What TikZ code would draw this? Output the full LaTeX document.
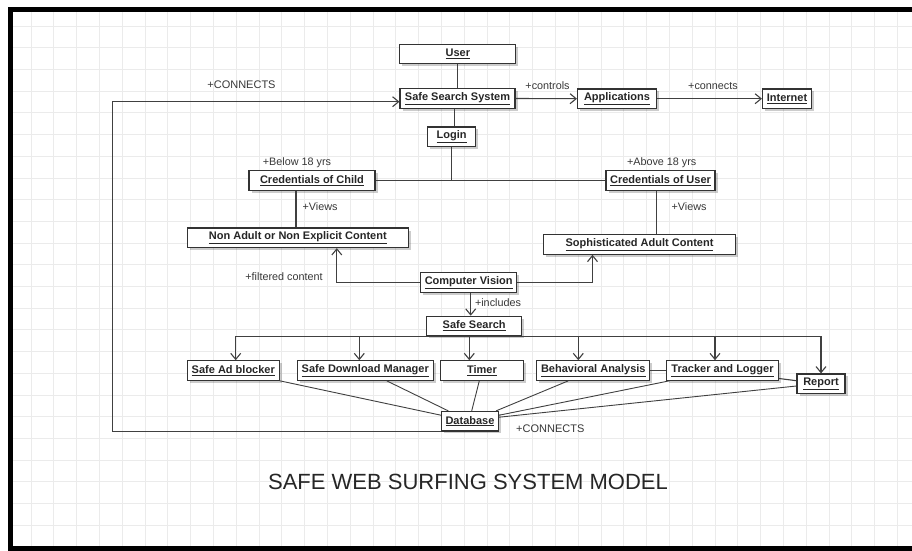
\documentclass[tikz,border=0pt]{standalone}
\usepackage{fontspec}
\setmainfont{Liberation Sans}
\usetikzlibrary{arrows.meta,shadows}
\tikzset{
  obj/.style={draw=black!80, line width=1.15pt, fill=white, minimum height=19.5pt, inner sep=2pt,
    font=\fontsize{11}{13}\selectfont\bfseries, text=black!85,
    drop shadow={shadow xshift=2.5pt, shadow yshift=-2.5pt, opacity=0.2, fill=black}},
  lbl/.style={font=\fontsize{10.8}{12}\selectfont, text=black!78, inner sep=0pt},
  link/.style={draw=black!75, line width=1.1pt},
  nav/.style={link, -{Straight Barb[length=6pt,width=10pt]}},
}
\begin{document}
\begin{tikzpicture}[x=1pt,y=-1pt]
\useasboundingbox (0,0) rectangle (912,550);
\fill[white] (0,0) rectangle (912,550);
\foreach \gx in {30.9,53.7,...,912} \draw[black!8, line width=0.8pt] (\gx,12) -- (\gx,546);
\foreach \gy in {26,47.7,...,545} \draw[black!8, line width=0.8pt] (13,\gy) -- (912,\gy);
\draw[line width=5pt] (916,9) -- (10.5,9) -- (10.5,548.5) -- (916,548.5);

\node[obj, minimum width=116pt] (user) at (457.8,54) {\underline{User}};
\node[obj, minimum width=115pt] (sss) at (457.5,98.5) {\underline{Safe Search System}};
\node[obj, minimum width=79pt] (apps) at (617,98.7) {\underline{Applications}};
\node[obj, minimum width=49pt] (inet) at (787,98.7) {\underline{Internet}};
\node[obj, minimum width=48pt] (login) at (451.7,136.7) {\underline{Login}};
\node[obj, minimum width=126pt] (cchild) at (312,180.5) {\underline{Credentials of Child}};
\node[obj, minimum width=109pt] (cuser) at (660.5,180.5) {\underline{Credentials of User}};
\node[obj, minimum width=221pt] (nonadult) at (297.8,237.8) {\underline{Non Adult or Non Explicit Content}};
\node[obj, minimum width=192pt] (adult) at (639.5,244.5) {\underline{Sophisticated Adult Content}};
\node[obj, minimum width=96pt] (cv) at (468.7,282.5) {\underline{Computer Vision}};
\node[obj, minimum width=95pt] (ss) at (474.2,326) {\underline{Safe Search}};
\node[obj, minimum width=92pt] (adblock) at (233.3,370.5) {\underline{Safe Ad blocker}};
\node[obj, minimum width=136pt] (sdm) at (365.3,370.5) {\underline{Safe Download Manager}};
\node[obj, minimum width=83pt] (timer) at (482,370.5) {\underline{Timer}};
\node[obj, minimum width=113pt] (behav) at (593.3,370.5) {\underline{Behavioral Analysis}};
\node[obj, minimum width=112pt] (tracker) at (722.5,370.5) {\underline{Tracker and Logger}};
\node[obj, minimum width=48pt] (report) at (821,383.7) {\underline{Report}};
\node[obj, minimum width=57pt] (db) at (470,421.2) {\underline{Database}};

\draw[link] (user.south) -- (user.south |- sss.north);
\draw[link] ([xshift=-3pt]sss.south) -- ([xshift=-3pt]sss.south |- login.north);
\draw[link] (login.south) -- (login.south |- cchild.east);
\draw[link] (cchild.east) -- (cuser.west);
\draw[nav] (sss.east) -- (apps.west);
\draw[nav] (apps.east) -- (inet.west);
\draw[link] ([xshift=-16pt]cchild.south) -- ([xshift=-16pt]cchild.south |- nonadult.north);
\draw[link] ([xshift=-4pt]cuser.south) -- ([xshift=-4pt]cuser.south |- adult.north);
\draw[nav] (cv.west) -| ([xshift=39pt]nonadult.south);
\draw[nav] (cv.east) -| ([xshift=-47pt]adult.south);
\draw[nav] ([xshift=2pt]cv.south) -- ([xshift=2pt]cv.south |- ss.north);

\draw[link] ([xshift=2.4pt]adblock.north |- ss.south) -- (report.north |- ss.south);
\foreach \n/\s in {adblock/2.4, sdm/-6, timer/-12.7, behav/-15, tracker/-7.5, report/0}
  \draw[nav] ([xshift=\s pt]\n.north |- ss.south) -- ([xshift=\s pt]\n.north);

\draw[link] (behav.east) -- (tracker.west);
\draw[link] ([yshift=-8pt]tracker.east) -- ([yshift=3pt]report.west);
\draw[link, line width=0.9pt] (adblock.south east) -- ([yshift=6pt]db.west);
\draw[link, line width=0.9pt] ([xshift=21.4pt]sdm.south) -- ([xshift=-21.7pt]db.north);
\draw[link, line width=0.9pt] ([xshift=-2.7pt]timer.south) -- ([xshift=1.7pt]db.north);
\draw[link, line width=0.9pt] ([xshift=-25pt]behav.south) -- ([xshift=-3pt]db.north east);
\draw[link, line width=0.9pt] ([xshift=3.5pt]tracker.south west) -- ([yshift=6pt]db.east);
\draw[link, line width=0.9pt] ([yshift=-2.3pt]report.west) -- ([yshift=4pt]db.east);

\coordinate (corner) at (112.7,101.7);
\draw[nav] (db.south west) -| (corner) -- (corner -| sss.west);

\node[lbl] (lcontrols) at (547.5,86) {+controls};
\node[lbl] (lconnects) at (713,86) {+connects};
\node[lbl, font=\fontsize{11}{13}\selectfont] (ltopconn) at (241.5,85) {+CONNECTS};
\node[lbl] (lbelow) at (297,163) {+Below 18 yrs};
\node[lbl] (labove) at (661.7,162.7) {+Above 18 yrs};
\node[lbl] (lviewsa) at (320,206.7) {+Views};
\node[lbl] (lviewsb) at (689,206.7) {+Views};
\node[lbl] (lfiltered) at (284,276.7) {+filtered content};
\node[lbl] (lincludes) at (498,302.3) {+includes};
\node[lbl, font=\fontsize{11}{13}\selectfont] (lbotconn) at (550.3,428.3) {+CONNECTS};

\node[font=\fontsize{22}{26}\selectfont, text=black!85] (title) at (468,482) {SAFE WEB SURFING SYSTEM MODEL};
\end{tikzpicture}
\end{document}
